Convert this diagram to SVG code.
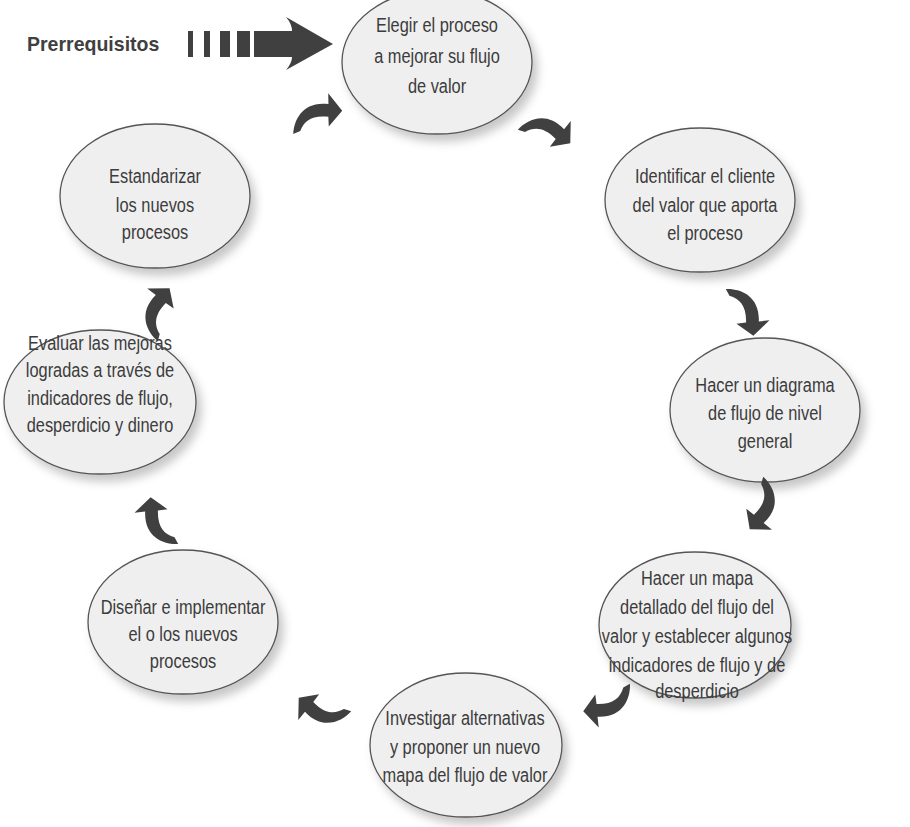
<svg xmlns="http://www.w3.org/2000/svg" xmlns:xlink="http://www.w3.org/1999/xlink" width="910" height="827" viewBox="0 0 910 827">
<style>
.node ellipse{fill:#efefef;stroke:#555;stroke-width:1.3;filter:url(#sh)}
.node text{font-family:"Liberation Sans",Arial,sans-serif;font-size:21px;fill:#3c3c3c;text-anchor:middle}
.arr{fill:#404040}
.pre{font-family:"Liberation Sans",Arial,sans-serif;font-weight:bold;font-size:21px;fill:#404040}
</style>
<defs>
<filter id="sh" x="-20%" y="-20%" width="150%" height="150%">
<feDropShadow dx="5" dy="7" stdDeviation="5" flood-color="#000" flood-opacity="0.22"/>
</filter>
<path id="ca" d="M -22 -20 C -8 -22, 11 -16, 12 8 L 22 6 L 8 22 L -9 12 L 0 10 C -1 -6, -8 -12, -18 -14 Z"/>
</defs>
<rect width="910" height="827" fill="#fff"/>
<g id="prerequisites">
<text class="pre" transform="matrix(0.93 0 0 1 27 0)" x="0" y="51">Prerrequisitos</text>
<rect class="arr" x="188" y="31" width="5" height="26"/>
<rect class="arr" x="204" y="31" width="6" height="26"/>
<rect class="arr" x="220" y="31" width="10" height="26"/>
<rect class="arr" x="237" y="31" width="13" height="26"/>
<path class="arr" d="M 254 31 L 292 31 Q 292 24 286 17 L 333 44 L 286 70 Q 292 63 292 57 L 254 57 Z"/>
</g>
<g id="n1" class="node"><ellipse cx="437" cy="62" rx="95" ry="72"/>
<g transform="matrix(0.78 0 0 1 437 0)"><text x="0" y="32">Elegir el proceso</text><text x="0" y="63">a mejorar su flujo</text><text x="0" y="93">de valor</text></g></g>
<g id="n2" class="node"><ellipse cx="700" cy="200" rx="95" ry="72"/>
<g transform="matrix(0.78 0 0 1 705 0)"><text x="0" y="183">Identificar el cliente</text><text x="0" y="212">del valor que aporta</text><text x="0" y="240">el proceso</text></g></g>
<g id="n3" class="node"><ellipse cx="765" cy="410" rx="95" ry="72"/>
<g transform="matrix(0.78 0 0 1 765 0)"><text x="0" y="392">Hacer un diagrama</text><text x="0" y="420">de flujo de nivel</text><text x="0" y="448">general</text></g></g>
<g id="n4" class="node"><ellipse cx="695" cy="625" rx="96" ry="73"/>
<g transform="matrix(0.78 0 0 1 697 0)"><text x="0" y="585">Hacer un mapa</text><text x="0" y="614">detallado del flujo del</text><text x="0" y="643">valor y establecer algunos</text><text x="0" y="672">indicadores de flujo y de</text><text x="0" y="698">desperdicio</text></g></g>
<g id="n5" class="node"><ellipse cx="466" cy="745" rx="96" ry="72"/>
<g transform="matrix(0.78 0 0 1 465 0)"><text x="0" y="725">Investigar alternativas</text><text x="0" y="754">y proponer un nuevo</text><text x="0" y="782">mapa del flujo de valor</text></g></g>
<g id="n6" class="node"><ellipse cx="183" cy="622" rx="95" ry="72"/>
<g transform="matrix(0.78 0 0 1 183 0)"><text x="0" y="614">Diseñar e implementar</text><text x="0" y="641">el o los nuevos</text><text x="0" y="668">procesos</text></g></g>
<g id="n7" class="node"><ellipse cx="100" cy="402" rx="96" ry="72"/>
<g transform="matrix(0.78 0 0 1 100 0)"><text x="0" y="350">Evaluar las mejoras</text><text x="0" y="377">logradas a través de</text><text x="0" y="405">indicadores de flujo,</text><text x="0" y="432">desperdicio y dinero</text></g></g>
<g id="n8" class="node"><ellipse cx="155" cy="196" rx="95" ry="72"/>
<g transform="matrix(0.78 0 0 1 155 0)"><text x="0" y="183">Estandarizar</text><text x="0" y="212">los nuevos</text><text x="0" y="239">procesos</text></g></g>
<g id="connectors">
<use xlink:href="#ca" class="arr" transform="translate(549,131) rotate(-40) scale(1.05)"/>
<use xlink:href="#ca" class="arr" transform="translate(747,312) rotate(5) scale(1.05)"/>
<use xlink:href="#ca" class="arr" transform="translate(762,508) rotate(50) scale(1.05)"/>
<use xlink:href="#ca" class="arr" transform="translate(607,705) rotate(95) scale(1.05)"/>
<use xlink:href="#ca" class="arr" transform="translate(320,710) rotate(140) scale(1.05)"/>
<use xlink:href="#ca" class="arr" transform="translate(157,521) rotate(185) scale(1.05)"/>
<use xlink:href="#ca" class="arr" transform="translate(158,310) rotate(228) scale(1.05)"/>
<use xlink:href="#ca" class="arr" transform="translate(318,115) rotate(280) scale(1.05)"/>
</g>
</svg>
